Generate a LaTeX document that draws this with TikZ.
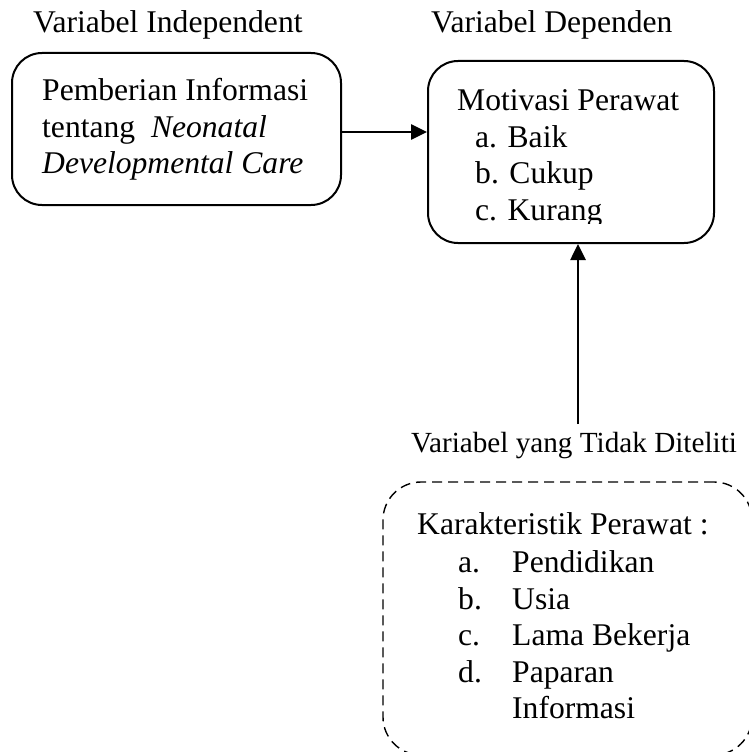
\documentclass[tikz,border=0pt]{standalone}
\usepackage{fontspec}
\setmainfont{Liberation Serif}
\usetikzlibrary{arrows.meta}
\begin{document}
\begin{tikzpicture}[x=1pt,y=-1pt,
  txt/.style={anchor=base west, inner sep=0pt, font=\fontsize{31.6}{36}\selectfont},
  smalltxt/.style={anchor=base west, inner sep=0pt, font=\fontsize{29.2}{34}\selectfont},
  box/.style={draw, line width=2pt, rounded corners=30pt, inner sep=0pt},
  dbox/.style={draw, line width=1.4pt, rounded corners=38pt, dash pattern=on 10pt off 6pt, inner sep=0pt},
  arr/.style={line width=2.6pt, -{Triangle[length=16pt,width=15pt]}}]
\useasboundingbox (0,0) rectangle (749,752);
\clip (0,0) rectangle (749,752);
\fill[white] (0,0) rectangle (749,752);
% titles
\node[txt] (t1) at (33,33) {Variabel Independent};
\node[txt] (t2) at (431,33) {Variabel Dependen};
\node[smalltxt] (t3) at (411,452) {Variabel yang Tidak Diteliti};
% boxes
\node[box, minimum width=329pt, minimum height=152pt] (lbox) at (176.5,129) {};
\node[box, minimum width=286pt, minimum height=182pt] (rbox) at (571,152) {};
\node[dbox, minimum width=369pt, minimum height=273pt] (dbx) at (567.5,618.5) {};
% left box text
\node[txt] (l1) at (42,100) {Pemberian Informasi};
\node[txt] (l2) at (42,137) {tentang~ \textit{Neonatal}};
\node[txt] (l3) at (42,173) {\textit{Developmental Care}};
% right box text
\node[txt] (r1) at (457,110) {Motivasi Perawat};
\node[txt] (r2) at (475,147) {a. Baik};
\node[txt] (r3) at (475,183) {b. Cukup};
\begin{scope}
\clip (428,61) rectangle (714,223);
\node[txt] (r4) at (475,220) {c. Kurang};
\end{scope}
% dashed box text
\node[txt] (d0) at (417,534) {Karakteristik Perawat :};
\node[txt] (da) at (458,572) {a.};
\node[txt] (db) at (458,609) {b.};
\node[txt] (dc) at (458,645) {c.};
\node[txt] (dd) at (458,682) {d.};
\node[txt] (ia) at (512,572) {Pendidikan};
\node[txt] (ib) at (512,609) {Usia};
\node[txt] (ic) at (512,645) {Lama Bekerja};
\node[txt] (id) at (512,682) {Paparan};
\node[txt] (ie) at (512,718) {Informasi};
% connectors
\draw[arr] ([yshift=-3pt]lbox.east) -- ([yshift=-3pt]lbox.east -| rbox.west);
\coordinate (vstart) at (578,424);
\draw[arr] (vstart) -- (vstart |- rbox.south);
\end{tikzpicture}
\end{document}
